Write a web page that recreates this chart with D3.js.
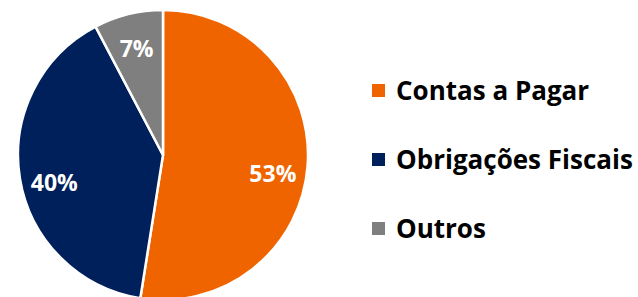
<!DOCTYPE html>
<html>
<head>
<meta charset="utf-8">
<script src="https://cdn.jsdelivr.net/npm/d3@7"></script>
<style>
  body { margin: 0; background: #fff; }
  svg { display: block; font-family: "Open Sans", Lato, sans-serif; font-weight: bold; }
</style>
</head>
<body>
<div id="chart"></div>
<script>
// slice data
const categories = ["Contas a Pagar", "Obrigações Fiscais", "Outros"];
const shares = [52.5, 39.8, 7.7];
const labels = ["53%", "40%", "7%"];
const colors = ["#f06400", "#00205c", "#7f7f7f"];

const width = 638, height = 297;
const cx = 163, cy = 155, r = 145;

const svg = d3.select("#chart").append("svg")
  .attr("width", width)
  .attr("height", height);

const pie = d3.pie().sort(null).value(d => d);
const arcs = pie(shares);

const arc = d3.arc().innerRadius(0).outerRadius(r);
const labelArc = d3.arc().innerRadius(r * 0.76).outerRadius(r * 0.76);

const g = svg.append("g").attr("transform", `translate(${cx},${cy})`);

g.selectAll("path")
  .data(arcs)
  .enter().append("path")
  .attr("d", arc)
  .attr("fill", (d, i) => colors[i])
  .attr("stroke", "#fff")
  .attr("stroke-width", 2.5)
  .attr("stroke-linejoin", "round");

// labels sit a bit lower on the side slices
g.selectAll("text")
  .data(arcs)
  .enter().append("text")
  .attr("transform", d => {
    const [x, y] = labelArc.centroid(d);
    const mid = (d.startAngle + d.endAngle) / 2;
    return `translate(${x},${y + 10 * Math.sin(mid) ** 2})`;
  })
  .attr("text-anchor", "middle")
  .attr("dy", "0.36em")
  .attr("fill", "#fff")
  .attr("font-size", 23)
  .text((d, i) => labels[i]);

// legend
const legend = svg.append("g").attr("transform", "translate(372,84)");
const rowY = d3.scalePoint().domain(categories).range([0, 138]);

const rows = legend.selectAll("g")
  .data(categories)
  .enter().append("g")
  .attr("transform", d => `translate(0,${rowY(d)})`);

rows.append("rect")
  .attr("width", 13)
  .attr("height", 13)
  .attr("fill", (d, i) => colors[i]);

rows.append("text")
  .attr("x", 24)
  .attr("y", 16)
  .attr("font-size", 26)
  .attr("fill", "#000")
  .text(d => d);
</script>
</body>
</html>
